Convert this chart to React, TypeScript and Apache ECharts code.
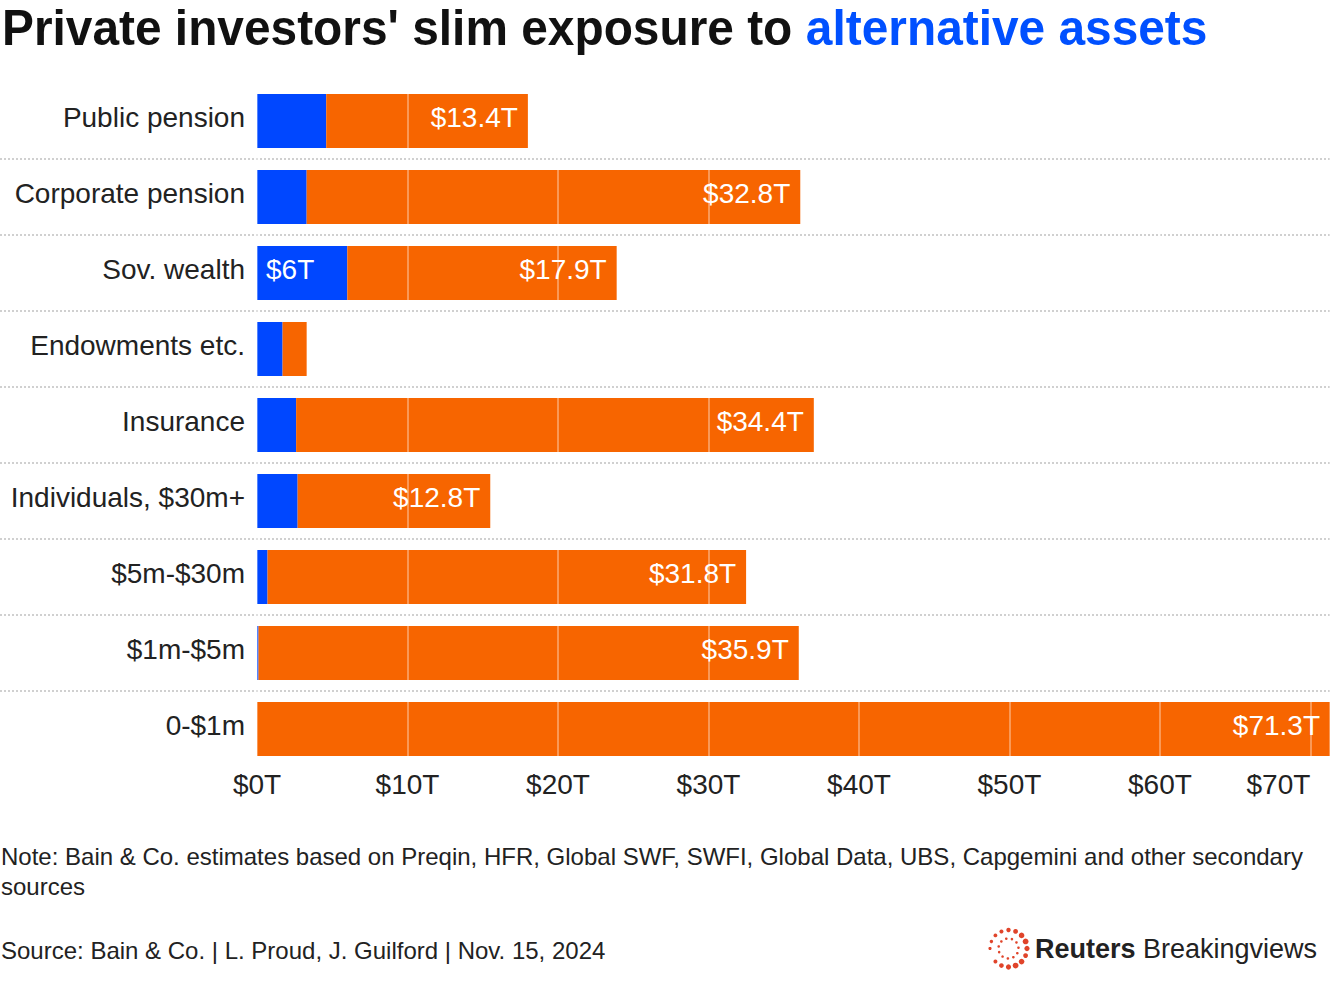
import React, { useEffect, useRef } from "react";
import * as echarts from "echarts";

const categories = [
  "Public pension",
  "Corporate pension",
  "Sov. wealth",
  "Endowments etc.",
  "Insurance",
  "Individuals, $30m+",
  "$5m-$30m",
  "$1m-$5m",
  "0-$1m",
];
const alternative = [4.6, 3.3, 6, 1.7, 2.6, 2.7, 0.7, 0.1, 0];
const traditional = [13.4, 32.8, 17.9, 1.6, 34.4, 12.8, 31.8, 35.9, 71.3];
const axisMax = 71.3;
const tickStep = 10;

const FONT = "'Liberation Sans', Arial, Helvetica, sans-serif";
const BLUE = "#0047ff";
const ORANGE = "#f76500";
const TXT = "#222222";

function logoDots() {
  const cx = 1008.5;
  const cy = 948.5;
  const els: any[] = [];
  const outerSizes = [2.2, 2.4, 2.8, 2.9, 2.6, 2.4, 2.8, 2.9, 2.6, 2.3, 2.0, 1.8, 1.6, 1.7, 1.9, 2.0];
  const n = outerSizes.length;
  for (let i = 0; i < n; i++) {
    const a = (-90 + (360 / n) * i) * (Math.PI / 180);
    els.push({
      type: "circle",
      shape: { cx: cx + 18.5 * Math.cos(a), cy: cy + 18.5 * Math.sin(a), r: outerSizes[i] },
      style: { fill: "#e0442a" },
    });
  }
  const m = 11;
  for (let i = 0; i < m; i++) {
    const a = (-70 + (360 / m) * i) * (Math.PI / 180);
    els.push({
      type: "circle",
      shape: { cx: cx + 10 * Math.cos(a), cy: cy + 10 * Math.sin(a), r: 1.3 },
      style: { fill: "#e0442a" },
    });
  }
  return els;
}

export default function App() {
  const ref = useRef<HTMLDivElement>(null);
  useEffect(() => {
    if (!ref.current) return;
    const chart = echarts.init(ref.current, undefined, { renderer: "svg" });
    const option: any = {
      animation: false,
      backgroundColor: "#ffffff",
      textStyle: { fontFamily: FONT },
      grid: [
        { left: 257, right: 2, top: 83, height: 684, containLabel: false },
        { left: 0, right: 2, top: 83, height: 684, containLabel: false },
      ],
      xAxis: [
        {
          gridIndex: 0,
          type: "value",
          min: 0,
          max: axisMax,
          interval: tickStep,
          z: 5,
          axisLine: { show: false },
          axisTick: { show: false },
          splitLine: { show: true, lineStyle: { color: "rgba(255,255,255,0.45)", width: 1.5 } },
          axisLabel: {
            showMaxLabel: false,
            fontSize: 28,
            color: TXT,
            fontFamily: FONT,
            margin: 3,
            formatter: (v: number) => (v === 70 ? "{e|$" + v + "T}" : "$" + v + "T"),
            rich: { e: { fontSize: 28, color: TXT, fontFamily: FONT, padding: [0, 64, 0, 0] } },
          },
        },
        { gridIndex: 1, type: "value", show: false, min: 0, max: 1 },
      ],
      yAxis: [
        {
          gridIndex: 0,
          type: "category",
          data: categories,
          inverse: true,
          axisLine: { show: false },
          axisTick: { show: false },
          splitLine: { show: false },
          axisLabel: {
            fontSize: 28,
            color: TXT,
            fontFamily: FONT,
            margin: 12,
            interval: 0,
            verticalAlign: "bottom",
            lineHeight: 8,
          },
        },
        {
          gridIndex: 1,
          type: "category",
          data: categories,
          inverse: true,
          z: 0,
          axisLine: { show: false },
          axisTick: { show: false, interval: 0 },
          axisLabel: { show: false, interval: 0 },
          splitLine: {
            show: true,
            interval: 0,
            showMinLine: false,
            showMaxLine: false,
            lineStyle: { color: "#d0d0d0", width: 2, type: [2, 2] },
          },
        },
      ],
      series: [
        {
          name: "Alternative assets",
          type: "bar",
          stack: "total",
          xAxisIndex: 0,
          yAxisIndex: 0,
          barWidth: 54,
          itemStyle: { color: BLUE },
          label: {
            show: true,
            position: "insideLeft",
            distance: 9,
            offset: [0, -4],
            color: "#ffffff",
            fontSize: 28,
            fontFamily: FONT,
            formatter: (p: any) => "$" + p.value + "T",
          },
          data: alternative.map((v) => ({ value: v, label: { show: v >= 5 } })),
        },
        {
          name: "Other assets",
          type: "bar",
          stack: "total",
          xAxisIndex: 0,
          yAxisIndex: 0,
          barWidth: 54,
          itemStyle: { color: ORANGE },
          label: {
            show: true,
            position: "insideRight",
            distance: 10,
            offset: [0, -4],
            color: "#ffffff",
            fontSize: 28,
            fontFamily: FONT,
            formatter: (p: any) => "$" + p.value + "T",
          },
          data: traditional.map((v) => ({ value: v, label: { show: v >= 5 } })),
        },
      ],
      graphic: [
        {
          type: "text",
          x: 2,
          y: 3,
          scaleX: 0.957,
          style: {
            text: "{a|Private investors' slim exposure to }{b|alternative assets}",
            verticalAlign: "top",
            rich: {
              a: { fontSize: 50, lineHeight: 50, fontWeight: "bold", fill: "#111111", fontFamily: FONT },
              b: { fontSize: 50, lineHeight: 50, fontWeight: "bold", fill: "#0050ff", fontFamily: FONT },
            },
          },
        },
        {
          type: "text",
          x: 1,
          y: 871,
          style: {
            text:
              "Note: Bain & Co. estimates based on Preqin, HFR, Global SWF, SWFI, Global Data, UBS, Capgemini and other secondary\nsources",
            fontSize: 24,
            lineHeight: 30,
            fill: TXT,
            fontFamily: FONT,
            verticalAlign: "middle",
          },
        },
        {
          type: "text",
          x: 1,
          y: 950,
          style: {
            text: "Source: Bain & Co. | L. Proud, J. Guilford | Nov. 15, 2024",
            fontSize: 24,
            fill: TXT,
            fontFamily: FONT,
            verticalAlign: "middle",
          },
        },
        {
          type: "text",
          x: 1035,
          y: 949,
          style: {
            text: "{r|Reuters}{s| Breakingviews}",
            verticalAlign: "middle",
            rich: {
              r: { fontSize: 27, fontWeight: "bold", fill: "#222222", fontFamily: FONT },
              s: { fontSize: 27, fill: "#222222", fontFamily: FONT },
            },
          },
        },
        ...logoDots(),
      ],
    };
    chart.setOption(option);
    return () => chart.dispose();
  }, []);
  return (
    <div
      ref={ref}
      style={{ position: "fixed", left: 0, top: 0, width: 1332, height: 998, background: "#fff" }}
    />
  );
}
